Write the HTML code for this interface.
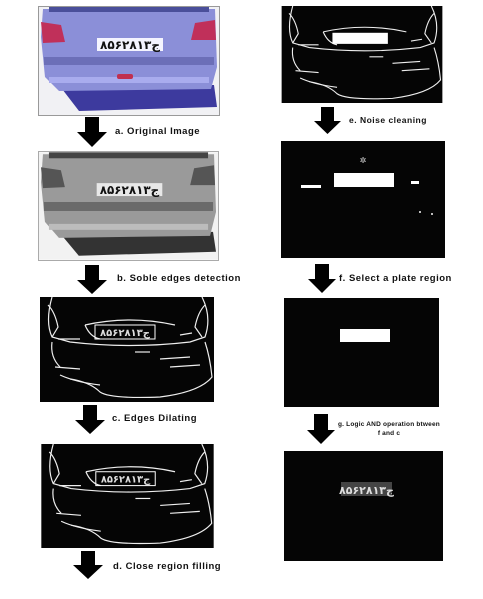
<!DOCTYPE html>
<html><head><meta charset="utf-8"><style>
body{margin:0;width:483px;height:599px;background:#fff;position:relative;overflow:hidden;font-family:"Liberation Sans","DejaVu Sans",sans-serif}
.p{position:absolute}
.lbl{position:absolute;font-weight:bold;font-size:9.5px;color:#111;white-space:nowrap;letter-spacing:0.5px}
.img{position:absolute;overflow:hidden}
</style></head><body>

<!-- a. Original -->
<svg class="img" style="left:38px;top:6px;border:1px solid #999" width="180" height="108" viewBox="0 0 180 108">
<rect width="180" height="108" fill="#f1f1f4"/>
<path d="M20 78 L175 78 L178 100 L40 104 Z" fill="#3d3a9e"/>
<path d="M4 2 L176 2 L178 60 L172 82 L20 84 L6 70 L2 30 Z" fill="#8b8fd8"/>
<rect x="10" y="0" width="160" height="5" fill="#4a4f9a"/>
<path d="M2 15 L22 18 L26 35 L4 36 Z" fill="#c0305a"/>
<path d="M156 16 L176 13 L177 33 L152 33 Z" fill="#c0305a"/>
<rect x="5" y="50" width="170" height="8" fill="#6c6fb8"/>
<rect x="10" y="70" width="160" height="6" fill="#a9acee"/>
<rect x="58" y="31" width="66" height="13" fill="#f4f4ff"/>
<text x="91" y="42" text-anchor="middle" font-size="12" font-weight="bold" fill="#111" font-family="'DejaVu Sans',sans-serif">۸۵ج۶۲۸۱۳</text>
<rect x="78" y="67" width="16" height="5" rx="2" fill="#c03050"/>
</svg>
<svg class="p" style="left:77px;top:117px" width="30" height="30"><path d="M8 0H22V15H30L15 30L0 15H8Z" fill="#000"/></svg>
<div class="lbl" style="left:115px;top:126px">a. Original Image</div>

<!-- b. Gray -->
<svg class="img" style="left:38px;top:151px;border:1px solid #aaa" width="179" height="108" viewBox="0 0 180 108">
<rect width="180" height="108" fill="#f2f2f2"/>
<path d="M20 80 L175 80 L178 100 L40 104 Z" fill="#333"/>
<path d="M4 2 L176 2 L178 60 L172 84 L20 86 L6 70 L2 30 Z" fill="#9a9a9a"/>
<rect x="10" y="0" width="160" height="6" fill="#444"/>
<path d="M2 15 L22 18 L26 35 L4 36 Z" fill="#555"/>
<path d="M156 16 L176 13 L177 33 L152 33 Z" fill="#555"/>
<rect x="5" y="50" width="170" height="9" fill="#6a6a6a"/>
<rect x="10" y="72" width="160" height="6" fill="#bcbcbc"/>
<rect x="58" y="31" width="66" height="13" fill="#e8e8e8"/>
<text x="91" y="42" text-anchor="middle" font-size="12" font-weight="bold" fill="#111" font-family="'DejaVu Sans',sans-serif">۸۵ج۶۲۸۱۳</text>
</svg>
<svg class="p" style="left:77px;top:265px" width="30" height="29"><path d="M8 0H22V15H30L15 29L0 15H8Z" fill="#000"/></svg>
<div class="lbl" style="left:117px;top:273px">b. Soble edges detection</div>

<!-- c -->
<svg class="img edges" style="left:40px;top:297px" width="174" height="105" viewBox="0 0 174 105"></svg>
<svg class="p" style="left:75px;top:405px" width="30" height="29"><path d="M8 0H22V15H30L15 29L0 15H8Z" fill="#000"/></svg>
<div class="lbl" style="left:112px;top:413px">c. Edges Dilating</div>

<!-- d -->
<svg class="img edges" style="left:41px;top:444px" width="173" height="104" viewBox="0 0 174 105"></svg>
<svg class="p" style="left:73px;top:551px" width="30" height="28"><path d="M8 0H22V14H30L15 28L0 14H8Z" fill="#000"/></svg>
<div class="lbl" style="left:113px;top:561px">d. Close region filling</div>

<!-- e -->
<svg class="img edges2" style="left:281px;top:6px" width="162" height="97" viewBox="0 0 174 105"></svg>
<svg class="p" style="left:314px;top:107px" width="27" height="27"><path d="M7 0H20V14H27L13.5 27L0 14H7Z" fill="#000"/></svg>
<div class="lbl" style="left:349px;top:115px;font-size:8.5px">e. Noise cleaning</div>

<!-- f -->
<svg class="img" style="left:281px;top:141px" width="164" height="117" viewBox="0 0 164 117">
<rect width="164" height="117" fill="#050505"/>
<rect x="53" y="32" width="60" height="14" fill="#fff"/>
<rect x="20" y="44" width="20" height="3" fill="#fff"/>
<rect x="130" y="40" width="8" height="3" fill="#fff"/>
<text x="82" y="22" text-anchor="middle" font-size="8" fill="#ddd">✲</text>
<rect x="138" y="70" width="2" height="2" fill="#bbb"/><rect x="150" y="72" width="2" height="2" fill="#bbb"/>
</svg>
<svg class="p" style="left:308px;top:264px" width="28" height="29"><path d="M7 0H21V15H28L14 29L0 15H7Z" fill="#000"/></svg>
<div class="lbl" style="left:339px;top:273px">f. Select a plate region</div>

<!-- plate region -->
<svg class="img" style="left:284px;top:298px" width="155" height="109" viewBox="0 0 155 109">
<rect width="155" height="109" fill="#050505"/>
<rect x="56" y="31" width="50" height="13" fill="#fff"/>
</svg>
<svg class="p" style="left:307px;top:414px" width="28" height="30"><path d="M7 0H21V16H28L14 30L0 16H7Z" fill="#000"/></svg>
<div class="lbl" style="left:338px;top:420px;font-size:6.5px;text-align:center;line-height:9px;letter-spacing:0.2px">g. Logic AND operation btween<br>f and c</div>

<!-- final -->
<svg class="img" style="left:284px;top:451px" width="159" height="110" viewBox="0 0 159 110">
<rect width="159" height="110" fill="#050505"/>
<rect x="57" y="31" width="51" height="14" fill="#444"/>
<text x="82.5" y="43" text-anchor="middle" font-size="11" font-weight="bold" fill="#ddd" font-family="'DejaVu Sans',sans-serif">۸۵ج۶۲۸۱۳</text>
</svg>

<script>
const edgePaths = [
 "M12 0 Q5 25 12 40 L30 45 Q90 52 150 45 L165 40 Q172 20 162 0",
 "M8 8 Q15 15 18 30 L12 40", "M165 8 Q158 15 155 30 L162 40",
 "M45 28 Q90 18 135 28", "M45 28 Q50 40 60 42", "M12 45 Q10 60 20 70",
 "M165 45 Q170 60 172 80 Q160 95 120 100 Q70 102 60 95 Q50 85 30 82",
 "M15 70 L40 72", "M130 70 L160 68", "M95 55 L110 55", "M120 62 L150 60",
 "M20 78 Q35 85 60 88", "M18 42 L40 42", "M140 38 L152 36"
];
document.querySelectorAll('.edges, .edges2').forEach(function(svg){
  const ns='http://www.w3.org/2000/svg';
  const bg=document.createElementNS(ns,'rect');
  bg.setAttribute('width','174');bg.setAttribute('height','105');bg.setAttribute('fill','#050505');
  svg.appendChild(bg);
  edgePaths.forEach(function(d){
    const p=document.createElementNS(ns,'path');
    
    
    p.setAttribute('d',d);p.setAttribute('fill','none');p.setAttribute('stroke','#eee');p.setAttribute('stroke-width','1.2');
    svg.appendChild(p);
  });
  const pl=document.createElementNS(ns,'rect');
  
  
  if(svg.classList.contains('edges2')){
    pl.setAttribute('x','55');pl.setAttribute('y','29');pl.setAttribute('width','60');pl.setAttribute('height','12');pl.setAttribute('fill','#fff');
  } else {
    pl.setAttribute('x','55');pl.setAttribute('y','28');pl.setAttribute('width','60');pl.setAttribute('height','14');pl.setAttribute('fill','none');pl.setAttribute('stroke','#fff');
  }
  svg.appendChild(pl);
  if(!svg.classList.contains('edges2')){
    const t=document.createElementNS(ns,'text');
    
    
    t.setAttribute('x','85');t.setAttribute('y','39');t.setAttribute('text-anchor','middle');
    t.setAttribute('font-size','10');t.setAttribute('font-weight','bold');t.setAttribute('fill','#ddd');
    t.textContent='۸۵ج۶۲۸۱۳';
    svg.appendChild(t);
  }
});
</script>
</body></html>
